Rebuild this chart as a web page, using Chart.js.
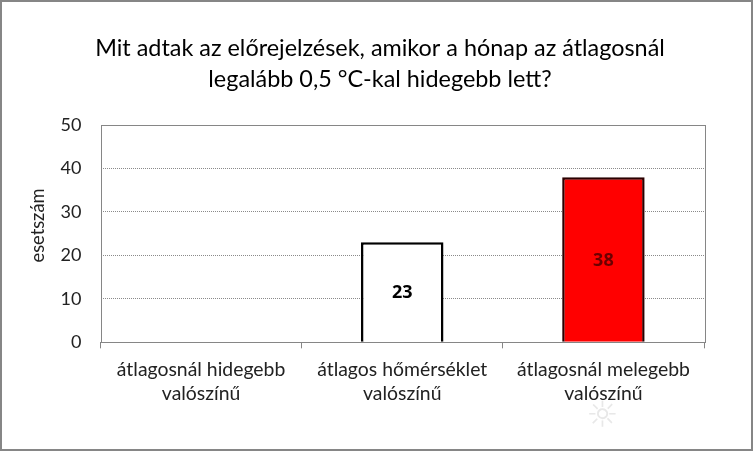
<!DOCTYPE html>
<html>
<head>
<meta charset="utf-8">
<style>
html, body { margin: 0; padding: 0; background: #fff; overflow: hidden; }
#myChart { display: block; outline: 2px solid #868686; outline-offset: -2px; }
</style>
<script src="https://cdn.jsdelivr.net/npm/chart.js@4/dist/chart.umd.min.js"></script>
</head>
<body>
<canvas id="myChart" width="753" height="451"></canvas>
<script>
var titulo = ['Mit adtak az előrejelzések, amikor a hónap az átlagosnál', 'legalább 0,5 °C-kal hidegebb lett?'];
var categorias = [['átlagosnál hidegebb', 'valószínű'], ['átlagos hőmérséklet', 'valószínű'], ['átlagosnál melegebb', 'valószínű']];
var valores = [0, 23, 38];
var colores = ['#ffffff', '#ffffff', '#ff0000'];
var coloresBorde = ['#000000', '#000000', '#2a0000'];
var coloresTexto = ['#000000', '#000000', '#6a0000'];
var ticksY = [0, 10, 20, 30, 40, 50];
var tituloY = 'esetszám';

var fuente = 'Lato, "Open Sans", sans-serif';

// marco del area del grafico, etiquetas de las barras, titulo del eje y el solecito
var extras = {
    id: 'extras',
    afterDatasetsDraw: function(chart) {
        var ctx = chart.ctx;
        var area = chart.chartArea;
        ctx.save();
        ctx.strokeStyle = '#868686';
        ctx.lineWidth = 1;
        ctx.strokeRect(Math.round(area.left) + 0.5, Math.round(area.top) + 0.5, Math.round(area.right - area.left), Math.round(area.bottom - area.top));

        ctx.font = 'bold 18px "Open Sans", ' + fuente;
        ctx.textAlign = 'center';
        ctx.textBaseline = 'middle';
        chart.getDatasetMeta(0).data.forEach(function(barra, i) {
            if (!valores[i]) return;
            ctx.fillStyle = coloresTexto[i];
            ctx.fillText(String(valores[i]), barra.x, (barra.y + barra.base) / 2 + 1);
        });

        ctx.font = '36px "DejaVu Sans"';
        ctx.fillStyle = '#e8e8e8';
        ctx.fillText('☼', chart.getDatasetMeta(0).data[2].x - 1, 418);

        ctx.translate(38, 225.5);
        ctx.rotate(-Math.PI / 2);
        ctx.font = '18.3px ' + fuente;
        ctx.fillStyle = '#222222';
        ctx.fillText(tituloY, 0, 0);
        ctx.restore();
    }
};

var ctx = document.getElementById('myChart').getContext('2d');

var graphData = {
    type: 'bar',
    data: {
        labels: categorias,
        datasets: [{
            data: valores,
            backgroundColor: colores,
            borderColor: coloresBorde,
            borderWidth: 2.5,
            barPercentage: 0.41,
            categoryPercentage: 1
        }]
    },
    options: {
        responsive: false,
        animation: false,
        layout: { padding: { top: 33, left: 56, right: 49, bottom: 36 } },
        plugins: {
            legend: { display: false },
            tooltip: { enabled: false },
            title: {
                display: true,
                text: titulo,
                color: '#000000',
                font: { family: fuente, size: 23.4, weight: 'normal', lineHeight: 1.32 },
                padding: { top: 0, bottom: 30.2 }
            }
        },
        scales: {
            x: {
                grid: { drawOnChartArea: false, drawTicks: true, tickLength: 6, color: '#868686' },
                border: { color: '#868686' },
                ticks: {
                    color: '#222222',
                    font: { family: fuente, size: 19.4, lineHeight: 1.28 },
                    padding: 8.5,
                    maxRotation: 0,
                    autoSkip: false
                }
            },
            y: {
                min: 0,
                max: 50,
                afterBuildTicks: function(scale) {
                    scale.ticks = ticksY.map(function(v) { return { value: v }; });
                },
                afterFit: function(scale) { scale.width = 44.5; },
                grid: {
                    // las lineas de 0 y 50 ya las pinta el marco
                    color: function(c) {
                        return (c.tick.value === 0 || c.tick.value === 50) ? 'rgba(0,0,0,0)' : '#8a8a8a';
                    },
                    lineWidth: 1,
                    drawTicks: false
                },
                border: { display: false, dash: [1, 1] },
                ticks: {
                    color: '#222222',
                    font: { family: fuente, size: 18 },
                    padding: 19
                }
            }
        }
    },
    plugins: [extras]
};

var myChart = new Chart(ctx, graphData);
</script>
</body>
</html>
